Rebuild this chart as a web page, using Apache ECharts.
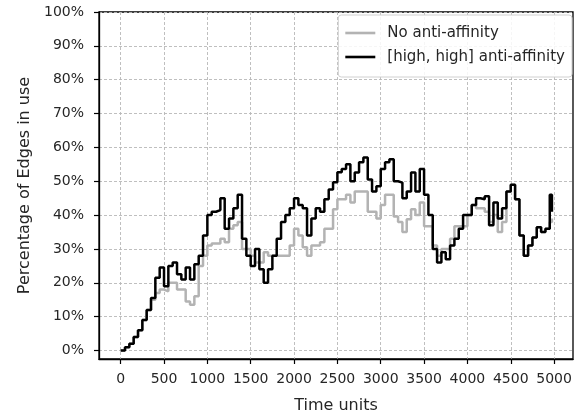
<!DOCTYPE html>
<html>
<head>
<meta charset="utf-8">
<script src="https://cdn.jsdelivr.net/npm/echarts@6/dist/echarts.min.js"></script>
<style>html,body{margin:0;padding:0;background:#fff}#c{width:579px;height:420px}</style>
</head>
<body>
<div id="c"></div>
<script>
const times = [0,50,100,150,200,250,300,350,400,450,500,550,600,650,700,750,800,850,900,950,
1000,1050,1100,1150,1200,1250,1300,1350,1400,1450,1500,1550,1600,1650,1700,1750,1800,1850,1900,1950,
2000,2050,2100,2150,2200,2250,2300,2350,2400,2450,2500,2550,2600,2650,2700,2750,2800,2850,2900,2950,
3000,3050,3100,3150,3200,3250,3300,3350,3400,3450,3500,3550,3600,3650,3700,3750,3800,3850,3900,3950,
4000,4050,4100,4150,4200,4250,4300,4350,4400,4450,4500,4550,4600,4650,4700,4750,4800,4850,4900,4950,4975];
const highAA = [0,1,2,4,6,9,12,15.5,21.5,24.5,19,25,26,22.5,21,24.5,21,25.5,28,34,
40,41,41.5,45,36,39,42,46,33,28,25,30,24,20,24,28,33,38,40,42,
45,43,42,34,39,42,41,44.7,47.6,49.7,52.7,53.6,55,50,52.6,55.6,57,50.5,47,48.5,
53.6,55.6,56.5,50,49.6,45,47,52.6,47,53.6,46,40,30,26,29,27,31,33,36,40,
40,43,45,44.7,45.6,37,43.7,39,42,47,49,44.7,34,28,31,33.4,36.4,35,36,46,41];
const noAA = [0,1,2,4,6,9,12,15,17,18,17.5,20,20,18,18,14.5,13.5,16,25,28,
31,31.6,31.6,33,32,36,37,38,30,30,28,26,26,29,28,28,28,28,28,31,
36,34,30.5,28,31,31,32,36,36,41.7,44.7,44.7,46,43.7,47,47,47,41,41,39,
43,46,46,39.6,38,35,38.8,41.7,40,43.7,36.7,36.7,31,28,30,30,33,36.7,36.7,36.7,
40,43,42,42,41,38,40,35,38,47,49,44.7,34,28,31,33.4,36.4,35,36,38,39];
const xTicks = [0,500,1000,1500,2000,2500,3000,3500,4000,4500,5000];
const yTicks = [0,10,20,30,40,50,60,70,80,90,100];
const seriesNames = ['No anti-affinity', '[high, high] anti-affinity'];

const FONT = 'DejaVu Sans';
const TXT = '#262626';
const gridLine = {show: true, lineStyle: {color: '#b8b8b8', width: 0.9, type: [3, 2]}};

const chart = echarts.init(document.getElementById('c'), null, {renderer: 'canvas'});
chart.setOption({
  animation: false,
  textStyle: {fontFamily: FONT},
  grid: {left: 99, right: 6, top: 12, bottom: 61, show: true, borderColor: '#000', borderWidth: 1.3, backgroundColor: 'transparent'},
  legend: {
    orient: 'vertical', right: 7, top: 15,
    padding: [9, 7, 11, 7], itemGap: 6, itemWidth: 30, itemHeight: 2.6,
    icon: 'rect',
    backgroundColor: 'rgba(255,255,255,0.85)', borderColor: '#d0d0d0', borderWidth: 1, borderRadius: 3,
    textStyle: {fontFamily: FONT, fontSize: 15, color: TXT, padding: [0, 0, 0, 7], lineHeight: 18},
    data: seriesNames
  },
  xAxis: {
    type: 'value', min: -250, max: 5218,
    name: 'Time units', nameLocation: 'middle', nameGap: 39,
    nameTextStyle: {fontFamily: FONT, fontSize: 16, color: TXT},
    axisLine: {show: true, onZero: false, lineStyle: {color: '#000', width: 1.3}},
    axisTick: {show: true, length: 5, lineStyle: {color: '#000', width: 1.2}, customValues: xTicks},
    axisLabel: {fontFamily: FONT, fontSize: 14, color: TXT, margin: 13, customValues: xTicks, formatter: v => String(v)},
    splitLine: gridLine
  },
  yAxis: {
    type: 'value', min: -2.5, max: 100,
    name: 'Percentage of Edges in use', nameLocation: 'middle', nameGap: 63,
    nameTextStyle: {fontFamily: FONT, fontSize: 16, color: TXT},
    axisLine: {show: true, onZero: false, lineStyle: {color: '#000', width: 1.3}},
    axisTick: {show: true, length: 5, lineStyle: {color: '#000', width: 1.2}, customValues: yTicks},
    axisLabel: {fontFamily: FONT, fontSize: 14, color: TXT, margin: 15, customValues: yTicks, formatter: v => v + '%'},
    splitLine: gridLine
  },
  series: [
    {name: seriesNames[0], type: 'line', step: 'end', showSymbol: false, symbol: 'none',
     lineStyle: {color: '#b3b3b3', width: 2.5}, itemStyle: {color: '#b3b3b3'},
     data: times.map((t, i) => [t, noAA[i]])},
    {name: seriesNames[1], type: 'line', step: 'end', showSymbol: false, symbol: 'none',
     lineStyle: {color: '#000', width: 2.5}, itemStyle: {color: '#000'},
     data: times.map((t, i) => [t, highAA[i]])}
  ]
});
</script>
</body>
</html>
